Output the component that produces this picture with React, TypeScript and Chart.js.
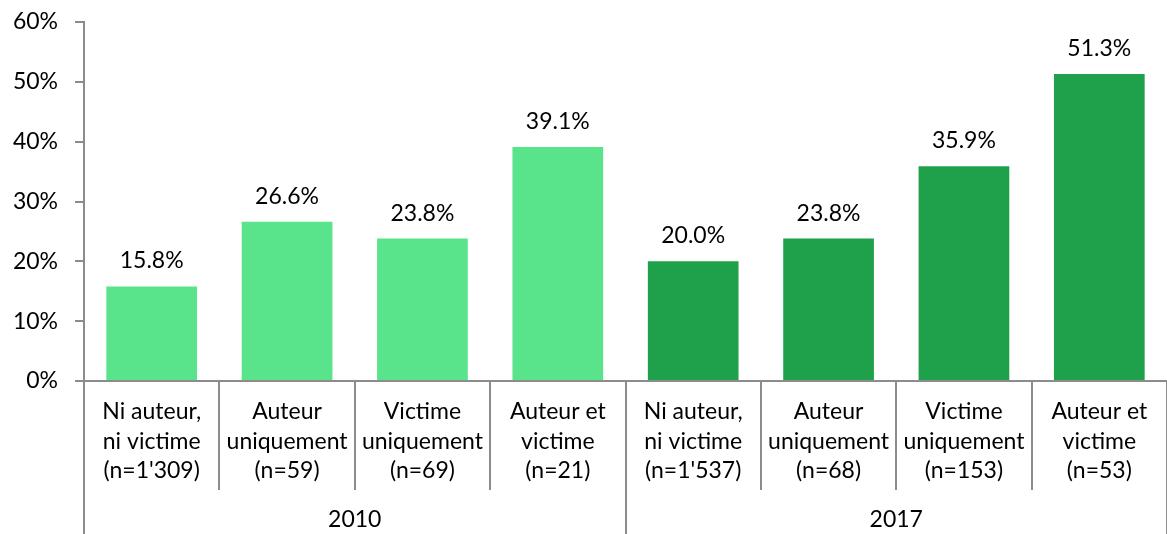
import React, { useEffect, useRef } from "react";
import { Chart, registerables } from "chart.js";

Chart.register(...registerables);

const categoryLabels: string[][] = [
  ["Ni auteur,", "ni victime", "(n=1'309)"],
  ["Auteur", "uniquement", "(n=59)"],
  ["Victime", "uniquement", "(n=69)"],
  ["Auteur et", "victime", "(n=21)"],
  ["Ni auteur,", "ni victime", "(n=1'537)"],
  ["Auteur", "uniquement", "(n=68)"],
  ["Victime", "uniquement", "(n=153)"],
  ["Auteur et", "victime", "(n=53)"],
];
const years = ["2010", "2017"];
const values2010 = [15.8, 26.6, 23.8, 39.1];
const values2017 = [20.0, 23.8, 35.9, 51.3];
const yMax = 60;
const yStep = 10;

const color2010 = "#59E38A";
const color2017 = "#1FA14C";
const axisColor = "#8C8C8C";
const FONT = "Lato, 'Open Sans', sans-serif";
const FONT_SIZE = 23;

export default function App() {
  const ref = useRef<HTMLCanvasElement | null>(null);

  useEffect(() => {
    if (!ref.current) return;
    const values = [...values2010, ...values2017];
    const colors = [
      ...values2010.map(() => color2010),
      ...values2017.map(() => color2017),
    ];
    const labels = categoryLabels.map((l) => l.join(" "));

    const overlay = {
      id: "overlay",
      afterDraw(chart: any) {
        const ctx = chart.ctx;
        const xs = chart.scales.x;
        const area = chart.chartArea;
        const n = labels.length;
        const w = (area.right - area.left) / n;
        const meta = chart.getDatasetMeta(0);
        ctx.save();
        ctx.fillStyle = "#000";
        ctx.font = `${FONT_SIZE}px ${FONT}`;
        ctx.textAlign = "center";
        ctx.textBaseline = "alphabetic";
        meta.data.forEach((bar: any, i: number) => {
          ctx.fillText(values[i].toFixed(1) + "%", bar.x, bar.y - 18);
        });
        ctx.strokeStyle = axisColor;
        ctx.lineWidth = 2;
        ctx.beginPath();
        ctx.moveTo(area.left, area.bottom);
        ctx.lineTo(area.right, area.bottom);
        ctx.stroke();
        for (let k = 0; k <= n; k++) {
          const x = Math.round(area.left + k * w);
          const isGroup = k % 4 === 0;
          ctx.beginPath();
          ctx.moveTo(x, area.bottom);
          ctx.lineTo(x, isGroup ? chart.height : area.bottom + 109);
          ctx.stroke();
        }
        ctx.textBaseline = "middle";
        categoryLabels.forEach((lines, i) => {
          const cx = xs.getPixelForValue(i);
          lines.forEach((line, j) => {
            ctx.fillText(line, cx, area.bottom + 31 + j * 29.5);
          });
        });
        years.forEach((y, g) => {
          const cx = area.left + (g * 4 + 2) * w;
          ctx.fillText(y, cx, area.bottom + 139);
        });
        ctx.restore();
      },
    };

    const chart = new Chart(ref.current, {
      type: "bar",
      data: {
        labels,
        datasets: [
          {
            data: values,
            backgroundColor: colors,
            barPercentage: 0.67,
            categoryPercentage: 1,
          },
        ],
      },
      options: {
        animation: false,
        responsive: false,
        maintainAspectRatio: false,
        layout: { padding: { top: 22, bottom: 153, left: 0, right: 0 } },
        plugins: {
          legend: { display: false },
          tooltip: { enabled: false },
        },
        scales: {
          x: { display: false },
          y: {
            min: 0,
            max: yMax,
            ticks: {
              stepSize: yStep,
              callback: (v: any) => v + "%",
              color: "#000",
              font: { family: FONT, size: FONT_SIZE },
              padding: 17,
            },
            grid: {
              display: true,
              drawOnChartArea: false,
              drawTicks: true,
              tickLength: 9,
              color: axisColor,
              lineWidth: 2,
            },
            border: { display: true, color: axisColor, width: 2 },
            afterFit: (scale: any) => {
              scale.width = 84;
              scale.paddingTop = 0;
              scale.paddingBottom = 0;
            },
          },
        },
      },
      plugins: [overlay],
    });
    return () => chart.destroy();
  }, []);

  return (
    <div style={{ position: "fixed", left: 0, top: 0, width: 1167, height: 534, background: "#fff" }}>
      <canvas ref={ref} width={1167} height={534} style={{ width: 1167, height: 534 }} />
    </div>
  );
}
